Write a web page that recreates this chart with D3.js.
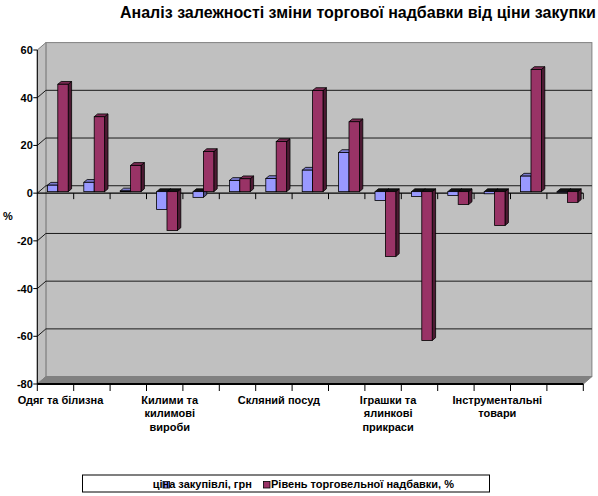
<!DOCTYPE html>
<html>
<head>
<meta charset="utf-8">
<script src="https://cdn.jsdelivr.net/npm/d3@7"></script>
<style>
  body { margin: 0; background: #fff; }
  text { font-family: "Liberation Sans", Arial, sans-serif; font-weight: bold; fill: #000; }
</style>
</head>
<body>
<div id="chart"></div>
<script>
// category labels (only every third one is printed on the axis), "\n" = line break
const categories = ["Одяг та білизна", "", "", "Килими та\nкилимові\nвироби", "", "",
  "Скляний посуд", "", "", "Іграшки та\nялинкові\nприкраси", "", "",
  "Інструментальні\nтовари", "", ""];
const seriesNames = ["ціна закупівлі, грн", "Рівень торговельної надбавки, %"];
const priceValues = [2.7, 3.9, 0.3, -7.5, -2.4, 4.7, 5.5, 9, 16.4, -3.7, -2, -1.6, -0.9, 6.5, -0.3];
const markupValues = [45, 31.4, 11, -16.3, 16.8, 5.4, 21, 42.4, 29.3, -27.2, -62.4, -5.4, -14.2, 51.2, -4.5];
const yTicks = [-80, -60, -40, -20, 0, 20, 40, 60];

const width = 598, height = 496;
// 3d offsets of the box and of the bars
const DX = 8.6, DY = -7.4;
const BX = 2.3, BY = -1.5;
const BDX = 3.4, BDY = -2.8;

const colors = [
  { front: "#9999ff", top: "#7a7acc", side: "#4d4d80" },
  { front: "#993366", top: "#7a2952", side: "#4d1a33" }
];

const svg = d3.select("#chart").append("svg")
  .attr("width", width).attr("height", height);

const x = d3.scaleBand().domain(d3.range(categories.length)).range([37.3, 583.3]);
const xs = d3.scaleBand().domain([0, 1]).range([0, x.bandwidth()]).paddingOuter(0.75);
const y = d3.scaleLinear().domain([-80, 60]).range([384, 50]);

const x0 = 37.3, x1 = 583.3, yTop = y(60), yBot = y(-80);

// title
svg.append("text").attr("x", 120).attr("y", 18)
  .style("font-size", "16px")
  .text("Аналіз залежності зміни торгової надбавки від ціни закупки");

// back wall
svg.append("rect")
  .attr("x", x0 + DX).attr("y", yTop + DY)
  .attr("width", x1 - x0).attr("height", yBot - yTop)
  .attr("fill", "#c0c0c0").attr("stroke", "#808080");

// left wall
svg.append("path")
  .attr("d", `M${x0},${yTop}L${x0 + DX},${yTop + DY}L${x0 + DX},${yBot + DY}L${x0},${yBot}Z`)
  .attr("fill", "#c0c0c0").attr("stroke", "#808080");

// floor
svg.append("path")
  .attr("d", `M${x0},${yBot}L${x1},${yBot}L${x1 + DX},${yBot + DY}L${x0 + DX},${yBot + DY}Z`)
  .attr("fill", "#808080").attr("stroke", "#808080");

// gridlines on back + left wall
const grid = svg.append("g");
yTicks.filter(t => t > -80 && t < 60).forEach(t => {
  grid.append("path")
    .attr("d", `M${x0},${y(t)}L${x0 + DX},${y(t) + DY}L${x1 + DX},${y(t) + DY}`)
    .attr("fill", "none").attr("stroke", "#1a1a1a").attr("stroke-width", 1);
});

// y axis
svg.append("line").attr("x1", x0).attr("x2", x0).attr("y1", yTop).attr("y2", yBot)
  .attr("stroke", "#000");
yTicks.forEach(t => {
  svg.append("line").attr("x1", x0 - 4).attr("x2", x0).attr("y1", y(t)).attr("y2", y(t))
    .attr("stroke", "#000");
  svg.append("text").attr("x", x0 - 4.5).attr("y", y(t) + 4)
    .attr("text-anchor", "end").style("font-size", "11px").text(t);
});
svg.append("text").attr("x", 3).attr("y", 220).style("font-size", "11px").text("%");

// zero axis line with ticks
svg.append("line").attr("x1", x0).attr("x2", x1).attr("y1", y(0)).attr("y2", y(0))
  .attr("stroke", "#000").attr("stroke-width", 1.3);
d3.range(1, categories.length + 1).forEach(i => {
  const xx = x0 + i * x.step();
  svg.append("line").attr("x1", xx).attr("x2", xx).attr("y1", y(0)).attr("y2", y(0) + 6)
    .attr("stroke", "#000");
});

// bars
const yb = v => y(v) + BY;
function bar(g, xl, w, v, c) {
  const t = Math.min(yb(0), yb(v)), b = Math.max(yb(0), yb(v));
  g.append("path")
    .attr("d", `M${xl + w},${t}L${xl + w + BDX},${t + BDY}L${xl + w + BDX},${b + BDY}L${xl + w},${b}Z`)
    .attr("fill", c.side).attr("stroke", "#000").attr("stroke-width", 0.8);
  g.append("path")
    .attr("d", `M${xl},${t}L${xl + w},${t}L${xl + w + BDX},${t + BDY}L${xl + BDX},${t + BDY}Z`)
    .attr("fill", v >= 0 ? c.top : "#111").attr("stroke", "#000").attr("stroke-width", 0.8);
  g.append("rect").attr("x", xl).attr("y", t).attr("width", w).attr("height", b - t)
    .attr("fill", c.front).attr("stroke", "#000").attr("stroke-width", 0.8);
}
const bars = svg.append("g");
categories.forEach((c, i) => {
  [priceValues[i], markupValues[i]].forEach((v, s) => {
    bar(bars, x(i) + xs(s) + BX, xs.bandwidth(), v, colors[s]);
  });
});

// floor front edge with ticks
svg.append("line").attr("x1", x0).attr("x2", x1).attr("y1", yBot).attr("y2", yBot)
  .attr("stroke", "#000").attr("stroke-width", 2);
d3.range(0, categories.length + 1).forEach(i => {
  const xx = x0 + i * x.step();
  svg.append("line").attr("x1", xx).attr("x2", xx).attr("y1", yBot).attr("y2", yBot + 7)
    .attr("stroke", "#000");
});

// category labels
categories.forEach((c, i) => {
  if (!c) return;
  const t = svg.append("text").attr("text-anchor", "middle").style("font-size", "11px");
  const cx = x(i) + x.bandwidth() / 2 + 5;
  c.split("\n").forEach((l, k) => {
    t.append("tspan").attr("x", cx).attr("y", 404 + k * 13.3).text(l);
  });
  const bb = t.node().getBBox();
  if (bb.x < 17) t.selectAll("tspan").attr("x", cx + 17 - bb.x);
});

// legend
svg.append("rect").attr("x", 82.5).attr("y", 475).attr("width", 407).attr("height", 17)
  .attr("fill", "#fff").attr("stroke", "#000");
const legendPos = [{ m: 163, t: 152.7 }, { m: 263.5, t: 271 }];
seriesNames.forEach((n, s) => {
  svg.append("rect").attr("x", legendPos[s].m).attr("y", 481.5).attr("width", 6.5).attr("height", 6.5)
    .attr("fill", colors[s].front).attr("stroke", "#000").attr("stroke-width", 0.8);
  svg.append("text").attr("x", legendPos[s].t).attr("y", 488)
    .style("font-size", "11px").text(n);
});
</script>
</body>
</html>
